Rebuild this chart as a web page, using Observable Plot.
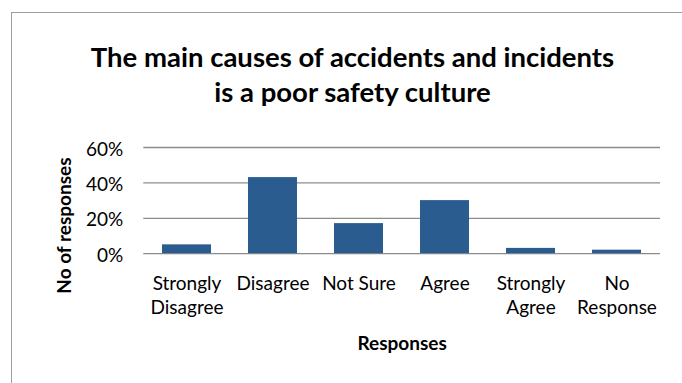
<!DOCTYPE html>
<html>
<head>
<meta charset="utf-8">
<script src="https://cdn.jsdelivr.net/npm/d3@7"></script>
<script src="https://cdn.jsdelivr.net/npm/@observablehq/plot@0.6"></script>
<style>
  html, body { margin: 0; padding: 0; background: #fff; }
  body { width: 682px; height: 383px; overflow: hidden; position: relative; font-family: Lato, sans-serif; }
  #frame { position: absolute; left: 11px; top: 11.5px; width: 671px; height: 372px; border-left: 1.5px solid #9e9e9e; border-top: 1.5px solid #9e9e9e; box-sizing: border-box; }
  #title { position: absolute; left: 0; top: 38.6px; width: 705px; text-align: center; font-weight: bold; font-size: 27.5px; line-height: 35.5px; color: #000; }
  #plot { position: absolute; left: 0; top: 120px; }
</style>
</head>
<body>
<div id="frame"></div>
<div id="title">The main causes of accidents and incidents<br>is a poor safety culture</div>
<div id="plot"></div>
<script>
const categories = ["Strongly Disagree", "Disagree", "Not Sure", "Agree", "Strongly Agree", "No Response"];
const tickLabels = ["Strongly\nDisagree", "Disagree", "Not Sure", "Agree", "Strongly\nAgree", "No\nResponse"];
const values = [0.05, 0.43, 0.17, 0.30, 0.03, 0.02];
const yTicks = [0, 0.2, 0.4, 0.6];
const yTitle = "No of responses";
const xTitle = "Responses";

const data = categories.map((c, i) => ({category: c, value: values[i]}));
const labelOf = new Map(categories.map((c, i) => [c, tickLabels[i]]));

const chart = Plot.plot({
  width: 682,
  height: 263,
  marginLeft: 143.3,
  marginRight: 22,
  marginTop: 27,
  marginBottom: 129.8,
  style: {fontFamily: "Lato, sans-serif", fontSize: "19px", color: "#000", background: "transparent", overflow: "visible"},
  x: {domain: categories, paddingInner: 0.43, paddingOuter: 0.215, axis: null},
  y: {domain: [0, 0.6], axis: null},
  marks: [
    Plot.gridY(yTicks, {stroke: "#8c8c8c", strokeOpacity: 1, strokeWidth: 1.3}),
    Plot.barY(data, {x: "category", y: "value", fill: "#2b5c90"}),
    Plot.axisY(yTicks, {tickSize: 0, tickPadding: 20.6, tickFormat: d3.format(".0%"), fontSize: 19, dy: 2, fill: "#000", label: null}),
    Plot.axisX(categories, {tickSize: 0, tickPadding: 19.2, tickFormat: (d) => labelOf.get(d), fontSize: 19, lineHeight: 1.25, fill: "#000", label: null}),
    Plot.text([yTitle], {frameAnchor: "left", textAnchor: "middle", rotate: -90, dx: -79.3, dy: 25, fontWeight: "bold", fontSize: 19, fill: "#000"}),
    Plot.text([xTitle], {frameAnchor: "bottom", lineAnchor: "middle", dy: 90, fontWeight: "bold", fontSize: 19, fill: "#000"})
  ]
});
document.getElementById("plot").appendChild(chart);
</script>
</body>
</html>
